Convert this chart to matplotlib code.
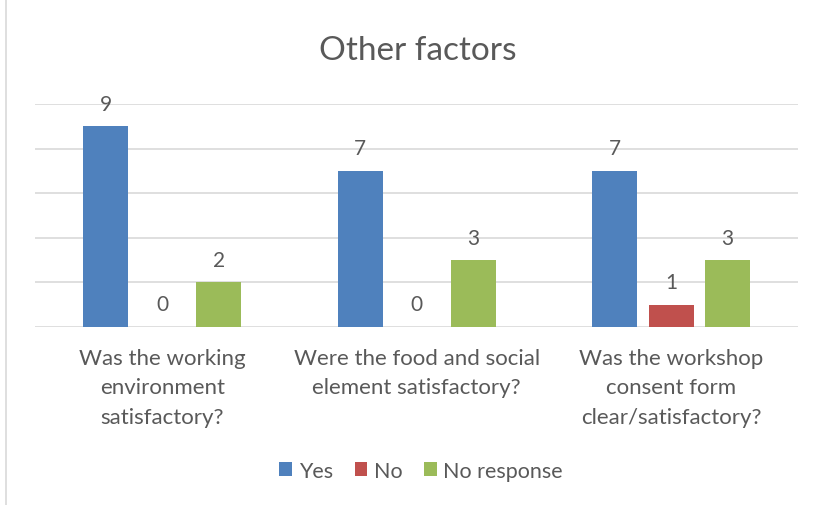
"""Grouped bar chart of the workshop 'Other factors' survey answers."""

import numpy as np
import matplotlib.pyplot as plt
from matplotlib.patches import Rectangle

# We keep the data here
categories = ["Was the working\nenvironment\nsatisfactory?",
              "Were the food and social\nelement satisfactory?",
              "Was the workshop\nconsent form\nclear/satisfactory?"]
series_names = ["Yes", "No", "No response"]
yes_values = [9, 7, 7]
no_values = [0, 0, 1]
no_response_values = [2, 3, 3]

colors = ["#4F81BD", "#C0504D", "#9BBB59"]
text_color = "#595959"

plt.rcParams['font.family'] = ['Lato', 'DejaVu Sans']

fig = plt.figure(figsize=(8.18, 5.06), dpi=100)
ax = fig.add_axes([0.0428, 0.352, 0.9332, 0.4405])

x = np.arange(len(categories))
step = 0.222
width = 0.177
all_values = [yes_values, no_values, no_response_values]

for i, (name, values) in enumerate(zip(series_names, all_values)):
    pos = x + (i - 1) * step
    ax.bar(pos, values, width=width, color=colors[i], label=name, zorder=3)
    # We put the value above each bar
    for p, v in zip(pos, values):
        ax.annotate(str(v), (p, v), xytext=(0, 9), textcoords='offset points',
                    ha='center', va='bottom', fontsize=15, color=text_color)

ax.set_xlim(-0.5, 2.5)
ax.set_ylim(0, 10)
ax.set_yticks(np.arange(0, 11, 2))
ax.yaxis.grid(True, color="#D9D9D9", linewidth=1.2, zorder=0)
ax.set_yticklabels([])
ax.tick_params(axis='both', length=0)
ax.set_xticks(x)
ax.set_xticklabels(categories, fontsize=16, color=text_color, linespacing=1.6)
ax.tick_params(axis='x', pad=15)
for spine in ax.spines.values():
    spine.set_visible(False)

fig.text(0.511, 0.90, "Other factors", ha='center', va='center',
         fontsize=24, color=text_color)

ax.legend(loc='center', bbox_to_anchor=(0.515, 0.068), bbox_transform=fig.transFigure,
          ncol=3, frameon=False, fontsize=15.5, handlelength=0.6, handleheight=0.6,
          handletextpad=0.3, columnspacing=1.0, labelcolor=text_color)

# We draw the light frame of the chart area
fig.patches.append(Rectangle((0.007, -0.01), 1.1, 1.1, transform=fig.transFigure,
                             fill=False, edgecolor="#D9D9D9", linewidth=1.2))

fig.savefig("out.png", dpi=100)
